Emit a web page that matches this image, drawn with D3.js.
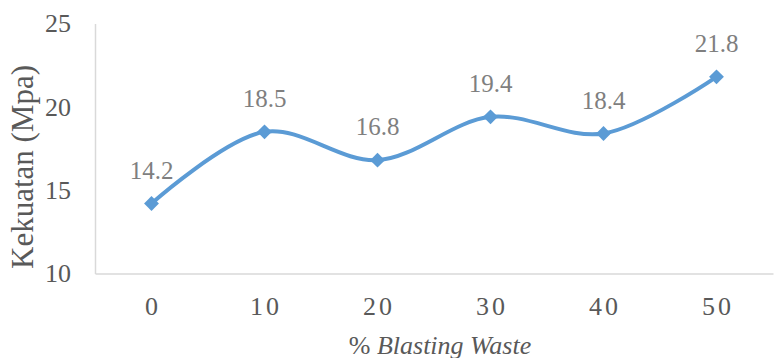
<!DOCTYPE html>
<html>
<head>
<meta charset="utf-8">
<script src="https://cdn.jsdelivr.net/npm/d3@7"></script>
<style>
  html, body { margin: 0; padding: 0; background: #fff; }
  svg { display: block; }
</style>
</head>
<body>
<svg id="chart" width="777" height="358"></svg>
<script>
// Compressive strength vs. blasting waste content
const categories = ["0", "10", "20", "30", "40", "50"];
const strength = [14.2, 18.5, 16.8, 19.4, 18.4, 21.8];
const yTicks = [10, 15, 20, 25];

const FONT = "Liberation Serif";
const svg = d3.select("#chart");
const margin = { left: 95, right: 4, top: 23.5, bottom: 84.5 };
const W = 777, H = 358;

const x = d3.scaleBand()
  .domain(categories)
  .range([margin.left, W - margin.right]);

const y = d3.scaleLinear()
  .domain([10, 25])
  .range([H - margin.bottom, margin.top]);

const axisColor = "#d9d9d9";
const tickColor = "#595959";

// Axes (no tick marks, light gray lines)
const gy = svg.append("g")
  .attr("transform", `translate(${margin.left},0)`)
  .call(d3.axisLeft(y).tickValues(yTicks).tickSize(0).tickPadding(24))
  .attr("font-family", FONT).attr("font-size", 26);
gy.select(".domain").attr("stroke", axisColor).attr("stroke-width", 1.5);
gy.selectAll("text").attr("font-family", FONT).attr("font-size", 26).attr("fill", tickColor);

const gx = svg.append("g")
  .attr("transform", `translate(0,${H - margin.bottom})`)
  .call(d3.axisBottom(x).tickSize(0).tickPadding(23))
  .attr("font-family", FONT).attr("font-size", 26);
gx.select(".domain").attr("stroke", axisColor).attr("stroke-width", 1.5);
gx.selectAll("text")
  .attr("font-family", FONT).attr("font-size", 26).attr("fill", tickColor)
  .attr("letter-spacing", 3)
  .attr("dx", 1.5);

// Axis titles
svg.append("text")
  .attr("transform", "translate(33,167) rotate(-90)")
  .attr("text-anchor", "middle")
  .attr("font-family", FONT).attr("font-size", 31).attr("fill", tickColor)
  .text("Kekuatan (Mpa)");

const xt = svg.append("text")
  .attr("x", 440)
  .attr("y", 354)
  .attr("text-anchor", "middle")
  .attr("font-family", FONT).attr("font-size", 26).attr("fill", tickColor);
xt.append("tspan").text("% ");
xt.append("tspan").attr("font-style", "italic").text("Blasting Waste");

// Smoothed line
const cx = d => x(d) + x.bandwidth() / 2;
const pts = categories.map((c, i) => [cx(c), y(strength[i])]);

svg.append("path")
  .datum(pts)
  .attr("fill", "none")
  .attr("stroke", "#5b9bd5")
  .attr("stroke-width", 4)
  .attr("stroke-linecap", "round")
  .attr("d", d3.line().curve(d3.curveCatmullRom.alpha(0.5)));

// Diamond markers
svg.append("g").selectAll("path")
  .data(pts)
  .join("path")
  .attr("transform", d => `translate(${d[0]},${d[1]})`)
  .attr("d", d3.symbol(d3.symbolDiamond2, 140))
  .attr("fill", "#5b9bd5");

// Data labels
svg.append("g").selectAll("text")
  .data(strength)
  .join("text")
  .attr("x", (d, i) => cx(categories[i]))
  .attr("y", d => y(d) - 25)
  .attr("text-anchor", "middle")
  .attr("font-family", FONT).attr("font-size", 25).attr("fill", "#7f7f7f")
  .text(d => d.toFixed(1));
</script>
</body>
</html>
